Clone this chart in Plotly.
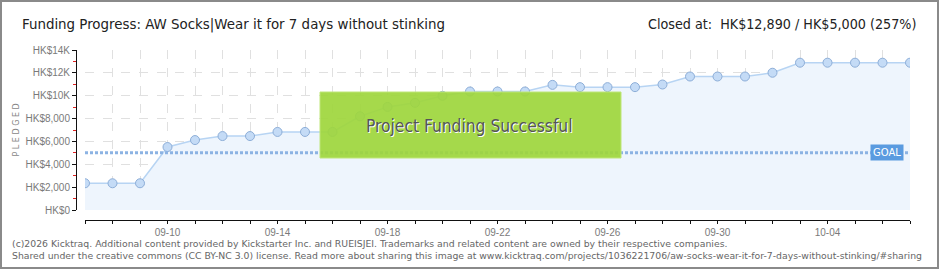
import plotly.graph_objects as go

dates = ["2016-09-07", "2016-09-08", "2016-09-09", "2016-09-10", "2016-09-11", "2016-09-12",
         "2016-09-13", "2016-09-14", "2016-09-15", "2016-09-16", "2016-09-17", "2016-09-18",
         "2016-09-19", "2016-09-20", "2016-09-21", "2016-09-22", "2016-09-23", "2016-09-24",
         "2016-09-25", "2016-09-26", "2016-09-27", "2016-09-28", "2016-09-29", "2016-09-30",
         "2016-10-01", "2016-10-02", "2016-10-03", "2016-10-04", "2016-10-05", "2016-10-06",
         "2016-10-07"]
pledged = [2340, 2340, 2340, 5510, 6120, 6470, 6470, 6830, 6830, 6830, 8200, 9020,
           9380, 9990, 10370, 10370, 10370, 10950, 10750, 10750, 10750, 10980, 11680, 11680,
           11680, 12010, 12890, 12890, 12890, 12890, 12890]
goal = 5000
y_tickvals = [0, 2000, 4000, 6000, 8000, 10000, 12000, 14000]
y_ticktext = ["HK$0", "HK$2,000", "HK$4,000", "HK$6,000", "HK$8,000", "HK$10K", "HK$12K", "HK$14K"]

title_text = "Funding Progress: AW Socks|Wear it for 7 days without stinking"
closed_text = "Closed at:  HK$12,890 / HK$5,000 (257%)"
footer1 = ("(c)2026 Kicktraq. Additional content provided by Kickstarter Inc. and RUEISJEI. "
           "Trademarks and related content are owned by their respective companies.")
footer2 = ("Shared under the creative commons (CC BY-NC 3.0) license. Read more about sharing this image at "
           "www.kicktraq.com/projects/1036221706/aw-socks-wear-it-for-7-days-without-stinking/#sharing")

W, H = 940, 270
L, R, T, B = 76, 30, 50, 50
PW = W - L - R   # paper width (834)
PH = H - T - B   # paper height (170)


def px(x):
    return (x - L) / PW


def py(y):
    return (H - B - y) / PH


fig = go.Figure()
fig.add_trace(go.Scatter(
    x=dates, y=pledged, mode="lines+markers",
    line=dict(color="#b7d4f3", width=1.5),
    marker=dict(size=9, color="#c4dbf6", line=dict(color="#8daed8", width=1)),
    fill="tozeroy", fillcolor="#eef5fd", hoverinfo="skip", showlegend=False,
))

axis_font = dict(family="Liberation Sans, DejaVu Sans, sans-serif", size=10, color="#7a7a7a")
cond = "DejaVu Sans Condensed, DejaVu Sans, sans-serif"

fig.update_layout(
    width=W, height=H,
    margin=dict(l=L, r=R, t=T, b=B),
    paper_bgcolor="white", plot_bgcolor="white",
    xaxis=dict(
        domain=[9 / PW, 1], anchor="free", position=0,
        type="date", range=[dates[0], dates[-1]],
        tick0="2016-09-10", dtick=4 * 86400000, tickformat="%m-%d",
        showline=True, linecolor="#111", linewidth=1,
        ticks="outside", ticklen=3, tickcolor="#111",
        showgrid=True, gridcolor="#e0e0e0", griddash="dash", gridwidth=1,
        minor=dict(dtick=86400000, ticks="outside", ticklen=3, tickcolor="#111",
                   showgrid=True, gridcolor="#e0e0e0", griddash="dash"),
        tickfont=axis_font, zeroline=False, fixedrange=True,
    ),
    yaxis=dict(
        domain=[10 / PH, 1], anchor="free", position=0,
        range=[0, 14000], tickvals=y_tickvals, ticktext=y_ticktext,
        showline=True, linecolor="#111", linewidth=1,
        ticks="outside", ticklen=4, tickcolor="#111",
        showgrid=True, gridcolor="#e0e0e0", griddash="dash",
        minor=dict(dtick=1000, ticks="outside", ticklen=3, tickcolor="#e02020", showgrid=False),
        tickfont=axis_font, zeroline=False, fixedrange=True,
    ),
    showlegend=False,
)

# goal line
fig.add_shape(type="line", xref="x", yref="y", x0=dates[0], x1=dates[-1], y0=goal, y1=goal,
              line=dict(color="#8cb3e3", width=3, dash="3px,2px"), layer="above")

# success banner
fig.add_shape(type="rect", xref="paper", yref="paper",
              x0=px(320), x1=px(621), y0=py(158), y1=py(92),
              fillcolor="rgba(158,214,60,0.92)", line=dict(color="rgba(190,230,120,1)", width=1),
              layer="above")
fig.add_annotation(xref="paper", yref="paper", x=px(469), y=py(126),
                   text="Project Funding Successful", showarrow=False,
                   font=dict(family=cond, size=17.25, color="#555555", shadow="1px 1px 0px #ffffff"))

# GOAL label
fig.add_annotation(x="2016-10-06 04:00", y=goal, xref="x", yref="y",
                   text="GOAL", showarrow=False, bgcolor="#5a9be0",
                   borderpad=2, font=dict(family="DejaVu Sans, sans-serif", size=10, color="white"))

# titles
fig.add_annotation(xref="paper", yref="paper", x=px(20), y=py(24), xanchor="left", yanchor="middle",
                   text=title_text, showarrow=False,
                   font=dict(family=cond, size=14.9, color="#222222"))
fig.add_annotation(xref="paper", yref="paper", x=px(918), y=py(24), xanchor="right", yanchor="middle",
                   text=closed_text, showarrow=False,
                   font=dict(family=cond, size=14.2, color="#222222"))

# y axis title
fig.add_annotation(xref="paper", yref="paper", x=px(9), y=py(130), textangle=-90,
                   text="P L E D G E D", showarrow=False,
                   font=dict(family="DejaVu Sans, sans-serif", size=8, color="#888888"))

# footer
fig.add_annotation(xref="paper", yref="paper", x=px(10), y=py(243), xanchor="left", yanchor="middle",
                   text=footer1, showarrow=False,
                   font=dict(family="DejaVu Sans, sans-serif", size=9.3, color="#666666"))
fig.add_annotation(xref="paper", yref="paper", x=px(10), y=py(256), xanchor="left", yanchor="middle",
                   text=footer2, showarrow=False,
                   font=dict(family="DejaVu Sans, sans-serif", size=9.3, color="#666666"))

# outer border
fig.add_shape(type="rect", xref="paper", yref="paper",
              x0=px(1), x1=px(938), y0=py(268), y1=py(1),
              line=dict(color="#8a8a8a", width=2), fillcolor="rgba(0,0,0,0)", layer="above")

fig.write_html("out.html")
